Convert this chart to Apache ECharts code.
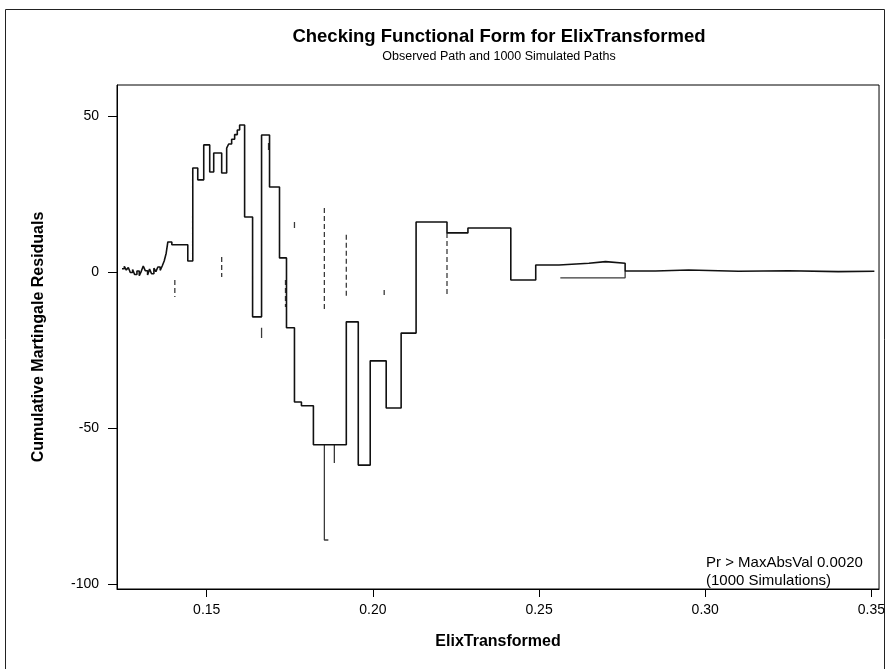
<!DOCTYPE html>
<html>
<head>
<meta charset="utf-8">
<script src="https://cdn.jsdelivr.net/npm/echarts@6/dist/echarts.min.js"></script>
<style>
  html, body { margin: 0; padding: 0; background: #fff; }
  #chart { width: 888px; height: 669px; }
</style>
</head>
<body>
<div id="chart"></div>
<script>
// Observed cumulative martingale residual path (step function): value after each jump
const observedX = [0.1245,0.1252,0.1258,0.1264,0.1270,0.1277,0.1283,0.1290,0.1297,0.1303,
  0.1309,0.1315,0.1322,0.1328,0.1334,0.1341,0.1347,0.1353,0.1360,0.1366,0.1372,0.1378,
  0.1383,0.1395,0.1443,0.1458,0.1473,0.1491,0.1509,0.1521,0.1545,0.1560,0.1566,0.1575,
  0.1584,0.1592,0.1599,0.1614,0.1638,0.1665,0.1689,0.1719,0.1740,0.1764,0.1785,0.1821,
  0.1920,0.1956,0.1992,0.2040,0.2085,0.2130,0.2223,0.2286,0.2415,0.2490,0.2560,0.2650,
  0.2700,0.2759,0.2850,0.2950,0.3100,0.3250,0.3400,0.3509];
const observedY = [1.0,1.8,0.6,1.4,-0.2,0.8,-0.8,0.3,-1.2,0.2,
  1.9,0.4,-1.0,0.9,-0.6,1.2,0.1,1.6,0.5,1.9,3.5,6.0,
  9.6,8.7,3.5,33.3,29.5,40.7,32.0,38.1,31.7,39.7,41.0,42.5,
  44.0,45.5,47.1,17.6,-14.4,43.9,27.2,4.5,-17.9,-41.7,-42.9,-55.4,
  -16.0,-61.9,-28.5,-43.6,-19.6,16.0,12.5,14.1,-2.6,2.2,2.8,3.3,
  2.8,0.3,0.6,0.2,0.4,0.1,0.2,0.0];

// Visible pieces of the simulated paths: [x, upper value, lower value]
const simDashed = [[0.1404,-2.6,-8.0],[0.1545,4.8,-1.6],[0.1737,-2.6,-11.2],
  [0.1854,20.5,-12.2],[0.1920,11.9,-8.0],[0.2034,-5.8,-8.0],[0.2223,12.5,-8.0]];
const simSolid = [[0.1665,-17.9,-21.2],[0.1686,41.3,39.1],[0.1764,16.0,14.1],
  [0.1884,-55.4,-61.2]];
// Simulated step pieces
const simSpikeX = [0.1854,0.1854,0.1866];
const simSpikeY = [-55.4,-85.9,-85.9];
const simTailX = [0.2564,0.2759];
const simTailY = [-1.9,0.3];

// Axis ticks
const xTicks = [0.15,0.20,0.25,0.30,0.35];
const yTicks = [-100,-50,0,50];

const FONT = "'Liberation Sans', Arial, sans-serif";

function verticalPieces(list) {
  const out = [];
  list.forEach(function (s) {
    out.push([s[0], s[1]], [s[0], s[2]], [s[0], '-']);
  });
  return out;
}
function zipXY(xs, ys) { return xs.map(function (x, i) { return [x, ys[i]]; }); }

const chart = echarts.init(document.getElementById('chart'), null, { renderer: 'canvas' });
chart.setOption({
  backgroundColor: '#fff',
  animation: false,
  grid: { left: 117, right: 7, top: 85, bottom: 80, show: true, borderColor: '#000', borderWidth: 1 },
  xAxis: {
    type: 'value', min: 0.1230, max: 0.3523,
    name: 'ElixTransformed', nameLocation: 'middle', nameGap: 45,
    nameTextStyle: { fontFamily: FONT, fontSize: 16, fontWeight: 'bold', color: '#000' },
    axisLine: { show: true, onZero: false, lineStyle: { color: '#000', width: 1 } },
    axisTick: { show: true, length: 8, customValues: xTicks, lineStyle: { color: '#000' } },
    axisLabel: { customValues: xTicks, margin: 14, fontFamily: FONT, fontSize: 14, color: '#000',
      formatter: function (v) { return v.toFixed(2); } },
    splitLine: { show: false }
  },
  yAxis: {
    type: 'value', min: -101.6, max: 59.9,
    name: 'Cumulative Martingale Residuals', nameLocation: 'middle', nameGap: 70, nameRotate: 90,
    nameTextStyle: { fontFamily: FONT, fontSize: 16, fontWeight: 'bold', color: '#000' },
    axisLine: { show: true, onZero: false, lineStyle: { color: '#000', width: 1 } },
    axisTick: { show: true, length: 9, customValues: yTicks, lineStyle: { color: '#000' } },
    axisLabel: { customValues: yTicks, margin: 18, fontFamily: FONT, fontSize: 14, color: '#000' },
    splitLine: { show: false }
  },
  graphic: [
    { type: 'rect', silent: true, shape: { x: 5.5, y: 9.5, width: 879, height: 680 },
      style: { fill: null, stroke: '#222', lineWidth: 1 } },
    { type: 'text', x: 499, y: 37, style: { text: 'Checking Functional Form for ElixTransformed',
      font: 'bold 18.5px ' + FONT, fill: '#000', textAlign: 'center', textVerticalAlign: 'middle' } },
    { type: 'text', x: 499, y: 57, style: { text: 'Observed Path and 1000 Simulated Paths',
      font: '12.5px ' + FONT, fill: '#000', textAlign: 'center', textVerticalAlign: 'middle' } },
    { type: 'text', x: 706, y: 554, style: { text: 'Pr > MaxAbsVal 0.0020\n(1000 Simulations)',
      font: '15px ' + FONT, fill: '#000', lineHeight: 18 } }
  ],
  series: [
    { name: 'Simulated', type: 'line', data: verticalPieces(simDashed), showSymbol: false,
      connectNulls: false, lineStyle: { color: '#3a3a3a', width: 1.3, type: [5, 3] }, z: 1 },
    { name: 'Simulated', type: 'line', data: verticalPieces(simSolid), showSymbol: false,
      connectNulls: false, lineStyle: { color: '#3a3a3a', width: 1.3 }, z: 1 },
    { name: 'Simulated', type: 'line', data: zipXY(simSpikeX, simSpikeY), showSymbol: false,
      lineStyle: { color: '#3a3a3a', width: 1.3 }, z: 1 },
    { name: 'Simulated', type: 'line', step: 'end', data: zipXY(simTailX, simTailY), showSymbol: false,
      lineStyle: { color: '#3a3a3a', width: 1.3 }, z: 1 },
    { name: 'Observed', type: 'line', step: 'end', data: zipXY(observedX, observedY), showSymbol: false,
      lineStyle: { color: '#111', width: 1.6 }, z: 3 }
  ]
});
</script>
</body>
</html>
